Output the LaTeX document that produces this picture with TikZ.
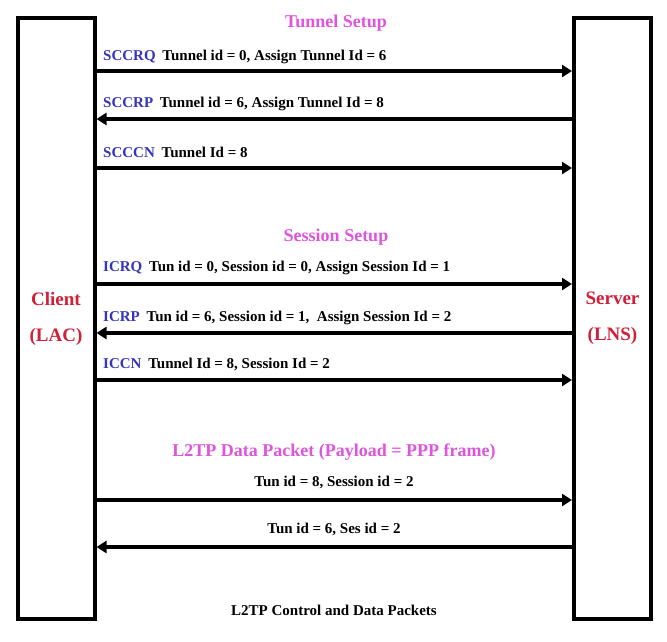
\documentclass[tikz,border=0pt]{standalone}
\usepackage{fontspec}
\setmainfont{Liberation Serif}
\usepackage{tikz}
\usepackage{xcolor}
\usetikzlibrary{positioning,arrows.meta,calc}
\definecolor{msgblue}{RGB}{52,52,190}
\definecolor{titlepink}{RGB}{222,84,222}
\definecolor{hostred}{RGB}{208,32,56}
\tikzset{
    host/.style={
        rectangle,
        draw=black,
        fill=white,
        line width=4pt,
        minimum width=77pt,
        minimum height=601pt,
        align=center,
        text=hostred,
        font=\bfseries\fontsize{19}{36}\selectfont
    },
    phase/.style={
        text=titlepink,
        font=\bfseries\fontsize{18}{20}\selectfont
    },
    msglab/.style={
        anchor=west,
        inner sep=0pt,
        font=\bfseries\fontsize{15}{17}\selectfont
    },
    datalab/.style={
        inner sep=0pt,
        font=\bfseries\fontsize{15}{17}\selectfont
    },
    arr/.style={-{Triangle[length=10pt,width=12pt]},line width=4pt}
}
\newcommand{\msgname}[1]{\textcolor{msgblue}{#1}\hspace{0.45em}}

\begin{document}
\begin{tikzpicture}[x=1pt,y=-1pt]
\useasboundingbox (0,0) rectangle (667,641);

\node[host] (lac) at (56,318.5) {Client\\(LAC)};
\node[host] (lns) at (612.5,318.5) {Server\\(LNS)};

% tunnel setup
\node[phase] (tun) at (336,23) {Tunnel Setup};
\node[msglab] (sccrq) at (103,57) {\msgname{SCCRQ}Tunnel id = 0, Assign Tunnel Id = 6};
\node[msglab] (sccrp) at (103,104) {\msgname{SCCRP}Tunnel id = 6, Assign Tunnel Id = 8};
\node[msglab] (scccn) at (103,152) {\msgname{SCCCN}Tunnel Id = 8};
\coordinate (m1) at (0,71);
\coordinate (m2) at (0,119);
\coordinate (m3) at (0,168);

% session setup
\node[phase] (ses) at (336,237) {Session Setup};
\node[msglab] (icrq) at (103,268) {\msgname{ICRQ}Tun id = 0, Session id = 0, Assign Session Id = 1};
\node[msglab] (icrp) at (103,318) {\msgname{ICRP}Tun id = 6, Session id = 1,\ \ Assign Session Id = 2};
\node[msglab] (iccn) at (103,364) {\msgname{ICCN}Tunnel Id = 8, Session Id = 2};
\coordinate (m4) at (0,284);
\coordinate (m5) at (0,333);
\coordinate (m6) at (0,380);

% data
\node[phase] (dat) at (334,452) {L2TP Data Packet (Payload = PPP frame)};
\node[datalab] (d1) at (334,482) {Tun id = 8, Session id = 2};
\node[datalab] (d2) at (334,529) {Tun id = 6, Ses id = 2};
\coordinate (m7) at (0,500);
\coordinate (m8) at (0,547);

\node[datalab] (foot) at (334,610) {L2TP Control and Data Packets};

\draw[arr] (lac.east |- m1) -- (lns.west |- m1);
\draw[arr] (lns.west |- m2) -- (lac.east |- m2);
\draw[arr] (lac.east |- m3) -- (lns.west |- m3);
\draw[arr] (lac.east |- m4) -- (lns.west |- m4);
\draw[arr] (lns.west |- m5) -- (lac.east |- m5);
\draw[arr] (lac.east |- m6) -- (lns.west |- m6);
\draw[arr] (lac.east |- m7) -- (lns.west |- m7);
\draw[arr] (lns.west |- m8) -- (lac.east |- m8);
\end{tikzpicture}
\end{document}
